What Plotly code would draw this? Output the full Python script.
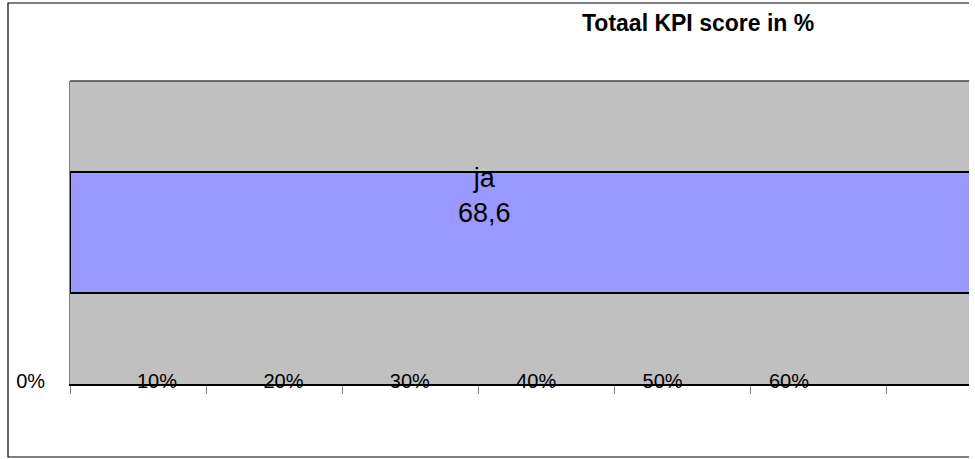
import plotly.graph_objects as go

categories = ["ja"]
values = [68.6]
tick_values = [0, 10, 20, 30, 40, 50, 60]
tick_labels = ["0%", "10%", "20%", "30%", "40%", "50%", "60%"]
title_text = "Totaal KPI score in %"

W, H = 969, 459
FONT = "Liberation Sans, Arial, sans-serif"

fig = go.Figure()
fig.add_trace(go.Bar(
    y=categories, x=values, orientation="h", width=0.4,
    marker=dict(color="#9999FF", line=dict(color="black", width=2)),
    hoverinfo="x+y", showlegend=False,
))
# helper trace so the label axis (xaxis2) is drawn
fig.add_trace(go.Scatter(x=[None], y=[None], xaxis="x2", yaxis="y",
                         showlegend=False, hoverinfo="skip"))

label = "<br>".join(f"{c}<br>{str(v).replace('.', ',')}" for c, v in zip(categories, values))

fig.update_layout(
    width=W, height=H,
    margin=dict(l=0, r=0, t=0, b=0),
    paper_bgcolor="white",
    plot_bgcolor="rgba(0,0,0,0)",
    font=dict(family=FONT, size=20, color="black"),
    xaxis=dict(domain=[70 / W, 1], range=[0, 66.09], dtick=10, tick0=0,
               showticklabels=False, ticks="outside", ticklen=8, tickcolor="#808080",
               tickwidth=1, showgrid=False, zeroline=False,
               showline=True, linecolor="black", linewidth=1.5),
    xaxis2=dict(domain=[0, 1], anchor="free", position=(H - 395) / H,
                range=[-30.6 / 12.64, (W - 30.6) / 12.64],
                tickmode="array", tickvals=tick_values, ticktext=tick_labels,
                ticklabelposition="inside", ticks="", showgrid=False, zeroline=False,
                showline=False, tickfont=dict(size=20, family=FONT, color="black")),
    yaxis=dict(domain=[(H - 384) / H, (H - 81) / H], range=[-0.5, 0.5],
               showticklabels=False, showgrid=False, zeroline=False,
               showline=True, linecolor="#808080", linewidth=1),
    shapes=[
        dict(type="rect", xref="x domain", yref="y domain", x0=0, x1=1, y0=0, y1=1,
             fillcolor="#C0C0C0", line=dict(width=0), layer="below"),
        dict(type="line", xref="x domain", yref="y domain", x0=0, x1=1, y0=1, y1=1,
             line=dict(color="#404040", width=1.5)),
        dict(type="rect", xref="paper", yref="paper", x0=8 / W, x1=1.05,
             y0=(H - 457) / H, y1=(H - 3) / H, line=dict(color="black", width=1.2),
             fillcolor="rgba(0,0,0,0)"),
    ],
    annotations=[
        dict(text=f"<b>{title_text}</b>", xref="paper", yref="paper",
             x=698 / W, y=(H - 23) / H, showarrow=False,
             font=dict(size=23, family=FONT, color="black"),
             xanchor="center", yanchor="middle"),
        dict(text=label, xref="paper", yref="paper", x=485 / W, y=(H - 196) / H,
             showarrow=False, font=dict(size=27, family=FONT, color="black"),
             xanchor="center", yanchor="middle"),
    ],
)

fig.write_html("out.html", config={"displayModeBar": False},
               post_script="document.body.style.margin='0';")
